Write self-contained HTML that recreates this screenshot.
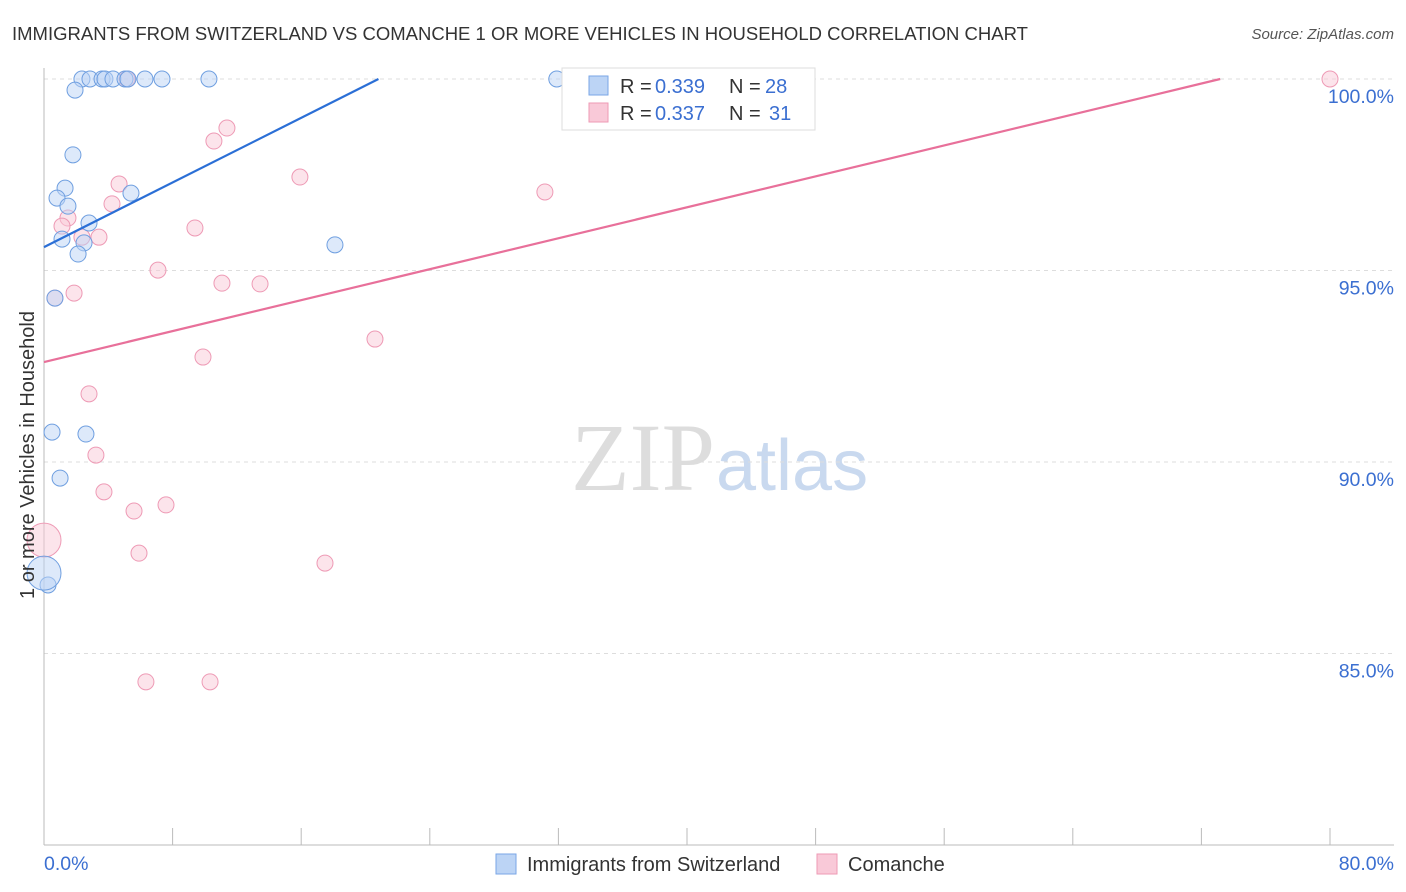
<!DOCTYPE html>
<html><head><meta charset="utf-8">
<style>
body{margin:0;background:#fff;font-family:"Liberation Sans",sans-serif;}
svg{display:block}
</style></head>
<body>
<svg id="c" width="1406" height="892" xmlns="http://www.w3.org/2000/svg">
<text x="12" y="40" font-size="18.5" fill="#333">IMMIGRANTS FROM SWITZERLAND VS COMANCHE 1 OR MORE VEHICLES IN HOUSEHOLD CORRELATION CHART</text>
<text x="1394" y="39" font-size="15" fill="#555" text-anchor="end" font-style="italic">Source: ZipAtlas.com</text>
<text x="715" y="490" font-size="96" fill="#ddd" text-anchor="end" font-family="Liberation Serif,serif">ZIP</text>
<text x="716" y="490" font-size="72" fill="#c9d9ef">atlas</text>
<g id="grid"></g><g id="axes"></g><g id="marks"></g>
<text x="34" y="455" font-size="20" fill="#333" text-anchor="middle" transform="rotate(-90 34 455)">1 or more Vehicles in Household</text>
<text x="44" y="870" font-size="19.5" fill="#3b6fd1">0.0%</text>
<text x="1394" y="870" font-size="19.5" fill="#3b6fd1" text-anchor="end">80.0%</text>
<g>
<rect x="562" y="68" width="253" height="62" fill="#fff" stroke="#ddd"/>
<rect x="589" y="76" width="19" height="19" fill="#bcd4f5" stroke="#7aa6e6"/>
<rect x="589" y="103" width="19" height="19" fill="#f9c9d8" stroke="#ee9ab5"/>
<text x="620" y="93" font-size="20" fill="#333">R =</text>
<text x="655" y="93" font-size="20" fill="#3b6fd1">0.339</text>
<text x="729" y="93" font-size="20" fill="#333">N =</text>
<text x="765" y="93" font-size="20" fill="#3b6fd1">28</text>
<text x="620" y="120" font-size="20" fill="#333">R =</text>
<text x="655" y="120" font-size="20" fill="#3b6fd1">0.337</text>
<text x="729" y="120" font-size="20" fill="#333">N =</text>
<text x="769" y="120" font-size="20" fill="#3b6fd1">31</text>
</g>
<g>
<rect x="496" y="854" width="20" height="20" fill="#bcd4f5" stroke="#7aa6e6"/>
<text x="527" y="871" font-size="20" fill="#333">Immigrants from Switzerland</text>
<rect x="817" y="854" width="20" height="20" fill="#f9c9d8" stroke="#ee9ab5"/>
<text x="848" y="871" font-size="20" fill="#333">Comanche</text>
</g>
</svg>
<script>
const blueX=[2.36,2.86,3.61,3.79,4.29,5.04,6.28,7.34,10.26,31.9,1.93,1.80,1.31,0.81,1.49,5.41,2.80,1.12,2.49,2.12,18.1,0.68,0.50,2.61,1.0,0.25,0.0,5.22];
const blueY=[100,100,100,100,100,100,100,100,100,100,99.71,98.02,97.15,96.89,96.68,97.02,96.24,95.82,95.72,95.43,95.67,94.28,90.78,90.73,89.58,86.79,87.1,100];
const pinkX=[5.16,33.34,80,11.38,10.57,15.92,4.67,31.16,4.23,1.49,1.12,3.42,2.36,9.39,7.09,11.07,13.44,1.87,0.68,20.59,9.89,2.8,3.23,3.73,7.59,5.6,5.91,17.48,0,6.34,10.33];
const pinkY=[100,100,100,98.72,98.38,97.44,97.26,97.05,96.74,96.37,96.16,95.87,95.87,96.11,95.01,94.67,94.65,94.41,94.28,93.21,92.74,91.78,90.18,89.22,88.88,88.72,87.62,87.36,87.96,84.26,84.26];
const blueTrend=[95.61,0.211];
const pinkTrend=[92.61,0.101];
const yTicks=[100,95,90,85];
const yTickLabels=["100.0%","95.0%","90.0%","85.0%"];
const xTicks=[0,8,16,24,32,40,48,56,64,72,80];
const NS="http://www.w3.org/2000/svg";
const sx=v=>44+v/80*1286, sy=v=>79+(100-v)*38.3;
function mk(t,a,p){const e=document.createElementNS(NS,t);for(const k in a)e.setAttribute(k,a[k]);document.getElementById(p).appendChild(e);return e;}
yTicks.forEach((v,i)=>{
 const l=mk('line',{x1:44,x2:1394,y1:sy(v),y2:sy(v),stroke:'#ddd','stroke-dasharray':'4,4'},'grid');
 
 
 const t=mk('text',{x:1394,y:sy(v)+24,'font-size':19.5,fill:'#3b6fd1','text-anchor':'end'},'grid');
 t.textContent=yTickLabels[i];
 
 
});
const ax=mk('line',{x1:44,x2:44,y1:68,y2:845,stroke:'#bbb'},'axes');


const bx=mk('line',{x1:44,x2:1394,y1:845,y2:845,stroke:'#bbb'},'axes');


xTicks.forEach(v=>{
 const t=mk('line',{x1:sx(v),x2:sx(v),y1:828,y2:845,stroke:'#bbb'},'axes');
 
 
});
function pts(X,Y,fill,stroke,name){
 X.forEach((x,i)=>{
  const big=(x===0);
  const c=mk('circle',{cx:sx(x),cy:sy(Y[i]),r:big?17:8,fill:fill,'fill-opacity':0.5,stroke:stroke,'stroke-width':1},'marks');
  
  
 });
}
pts(pinkX,pinkY,'#f9c9d8','#ee9ab5','comanche-point');
pts(blueX,blueY,'#bcd4f5','#6f9fe0','switzerland-point');
function trend(tr,color,name){
 const xEnd=Math.min(80,(100-tr[0])/tr[1]);
 const l=mk('line',{x1:sx(0),y1:sy(tr[0]),x2:sx(xEnd),y2:sy(tr[0]+tr[1]*xEnd),stroke:color,'stroke-width':2.2},'marks');
 
 
}
trend(blueTrend,'#2b6fd6','switzerland-trendline');
trend(pinkTrend,'#e8709a','comanche-trendline');
</script>
</body></html>
